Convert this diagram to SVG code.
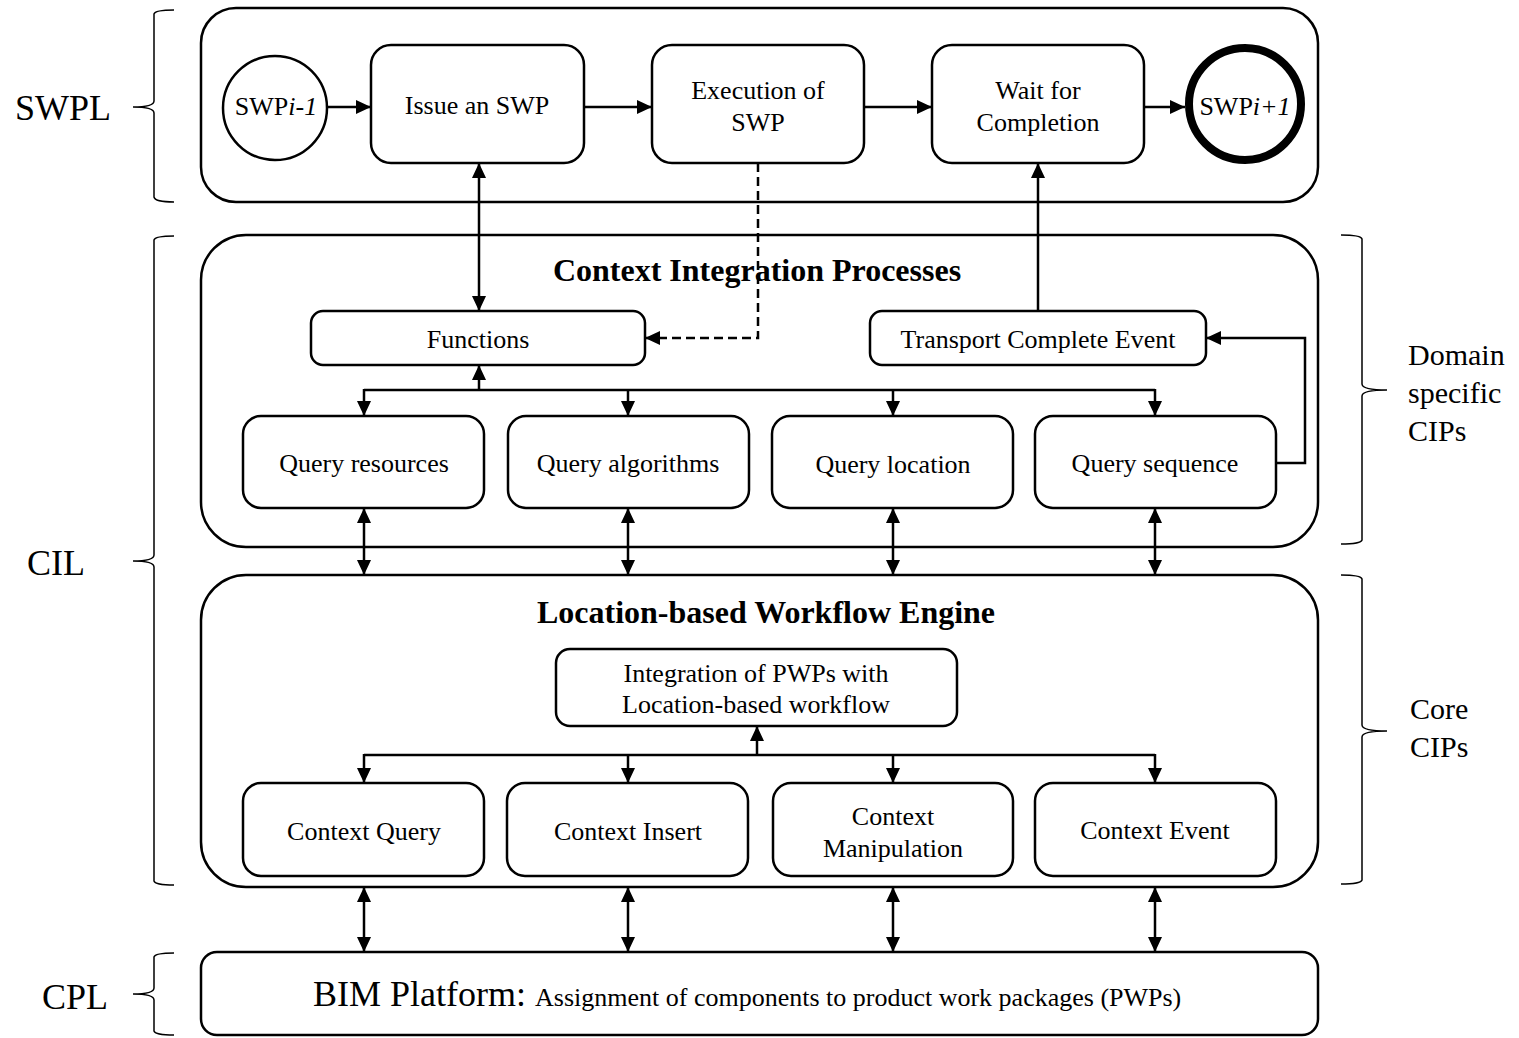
<svg xmlns="http://www.w3.org/2000/svg" width="1519" height="1038" viewBox="0 0 1519 1038">
  <style>
    text { font-family: "Liberation Serif", "Times New Roman", serif; fill: #000; }
    .box { fill: #fff; stroke: #000; stroke-width: 2.5; }
    .layer { fill: none; stroke: #000; stroke-width: 2.5; }
    .brace { fill: none; stroke: #000; stroke-width: 1.5; }
    .conn { fill: none; stroke: #000; stroke-width: 2.5; }
    .dash { stroke-dasharray: 9 5; }
    .t { font-size: 26px; text-anchor: middle; }
    .title { font-size: 32px; font-weight: bold; text-anchor: middle; }
    .side { font-size: 36px; }
    .side2 { font-size: 30px; }
  </style>
  <defs>
    <marker id="ah" markerUnits="userSpaceOnUse" markerWidth="16" markerHeight="14" refX="15" refY="7" orient="auto-start-reverse">
      <path d="M0,0 L15,7 L0,14 z" fill="#000"/>
    </marker>
  </defs>

  <!-- layer labels and braces -->
  <g id="labels">
    <text class="side" x="15" y="120">SWPL</text>
    <text class="side" x="27" y="575">CIL</text>
    <text class="side" x="42" y="1009">CPL</text>
    <text class="side2" x="1408" y="365">Domain</text>
    <text class="side2" x="1408" y="403">specific</text>
    <text class="side2" x="1408" y="441">CIPs</text>
    <text class="side2" x="1410" y="719">Core</text>
    <text class="side2" x="1410" y="757">CIPs</text>
  </g>
  <g id="braces">
    <path class="brace" d="M174,10 Q155,10 154,14 L154,101 Q154,107 133,107 Q154,107 154,113 L154,197 Q155,202 174,202"/>
    <path class="brace" d="M174,236 Q155,236 154,240 L154,555 Q154,561 133,561 Q154,561 154,567 L154,881 Q155,885 174,885"/>
    <path class="brace" d="M174,953 Q155,953 154,957 L154,988 Q154,994 133,994 Q154,994 154,1000 L154,1031 Q155,1035 174,1035"/>
    <path class="brace" d="M1341,235 Q1361,235 1362,239 L1362,384 Q1362,390 1387,390 Q1362,390 1362,396 L1362,540 Q1361,544 1341,544"/>
    <path class="brace" d="M1341,575 Q1361,575 1362,579 L1362,725 Q1362,731 1387,731 Q1362,731 1362,737 L1362,880 Q1361,884 1341,884"/>
  </g>

  <!-- layer containers -->
  <g id="swpl-layer"><rect class="layer" x="201" y="8" width="1117" height="194" rx="35"/></g>
  <g id="cip-layer">
    <rect class="layer" x="201" y="235" width="1117" height="312" rx="45"/>
    <text class="title" x="757" y="281">Context Integration Processes</text>
  </g>
  <g id="lwe-layer">
    <rect class="layer" x="201" y="575" width="1117" height="312" rx="45"/>
    <text class="title" x="766" y="623">Location-based Workflow Engine</text>
  </g>

  <!-- SWPL nodes -->
  <g id="swp-prev">
    <circle class="box" cx="275" cy="108" r="52"/>
    <text class="t" x="276" y="115">SWP<tspan font-style="italic">i-1</tspan></text>
  </g>
  <g id="issue-swp">
    <rect class="box" x="371" y="45" width="213" height="118" rx="20"/>
    <text class="t" x="477" y="114">Issue an SWP</text>
  </g>
  <g id="execution-swp">
    <rect class="box" x="652" y="45" width="212" height="118" rx="20"/>
    <text class="t" x="758" y="99">Execution of</text>
    <text class="t" x="758" y="131">SWP</text>
  </g>
  <g id="wait-completion">
    <rect class="box" x="932" y="45" width="212" height="118" rx="20"/>
    <text class="t" x="1038" y="99">Wait for</text>
    <text class="t" x="1038" y="131">Completion</text>
  </g>
  <g id="swp-next">
    <circle cx="1245" cy="104" r="56" fill="#fff" stroke="#000" stroke-width="8"/>
    <text class="t" x="1245" y="115">SWP<tspan font-style="italic">i+1</tspan></text>
  </g>

  <!-- CIP nodes -->
  <g id="functions">
    <rect class="box" x="311" y="311" width="334" height="54" rx="12"/>
    <text class="t" x="478" y="348">Functions</text>
  </g>
  <g id="transport-event">
    <rect class="box" x="870" y="311" width="336" height="54" rx="12"/>
    <text class="t" x="1038" y="348">Transport Complete Event</text>
  </g>
  <g id="query-resources">
    <rect class="box" x="243" y="416" width="241" height="92" rx="18"/>
    <text class="t" x="364" y="472">Query resources</text>
  </g>
  <g id="query-algorithms">
    <rect class="box" x="508" y="416" width="241" height="92" rx="18"/>
    <text class="t" x="628" y="472">Query algorithms</text>
  </g>
  <g id="query-location">
    <rect class="box" x="772" y="416" width="241" height="92" rx="18"/>
    <text class="t" x="893" y="473">Query location</text>
  </g>
  <g id="query-sequence">
    <rect class="box" x="1035" y="416" width="241" height="92" rx="18"/>
    <text class="t" x="1155" y="472">Query sequence</text>
  </g>

  <!-- LWE nodes -->
  <g id="integration">
    <rect class="box" x="556" y="649" width="401" height="77" rx="14"/>
    <text class="t" x="756" y="682">Integration of PWPs with</text>
    <text class="t" x="756" y="713">Location-based workflow</text>
  </g>
  <g id="context-query">
    <rect class="box" x="243" y="783" width="241" height="93" rx="18"/>
    <text class="t" x="364" y="840">Context Query</text>
  </g>
  <g id="context-insert">
    <rect class="box" x="507" y="783" width="241" height="93" rx="18"/>
    <text class="t" x="628" y="840">Context Insert</text>
  </g>
  <g id="context-manipulation">
    <rect class="box" x="773" y="783" width="240" height="93" rx="18"/>
    <text class="t" x="893" y="825">Context</text>
    <text class="t" x="893" y="857">Manipulation</text>
  </g>
  <g id="context-event">
    <rect class="box" x="1035" y="783" width="241" height="93" rx="18"/>
    <text class="t" x="1155" y="839">Context Event</text>
  </g>

  <!-- CPL node -->
  <g id="bim-platform">
    <rect class="box" x="201" y="952" width="1117" height="83" rx="16"/>
    <text x="313" y="1006" font-size="36">BIM Platform: <tspan font-size="26">Assignment of components to product work packages (PWPs)</tspan></text>
  </g>

  <!-- connectors -->
  <g id="connectors">
    <line class="conn" x1="327" y1="107" x2="371" y2="107" marker-end="url(#ah)"/>
    <line class="conn" x1="584" y1="107" x2="652" y2="107" marker-end="url(#ah)"/>
    <line class="conn" x1="864" y1="107" x2="932" y2="107" marker-end="url(#ah)"/>
    <line class="conn" x1="1144" y1="107" x2="1185" y2="107" marker-end="url(#ah)"/>
    <line class="conn" x1="479" y1="163" x2="479" y2="311" marker-start="url(#ah)" marker-end="url(#ah)"/>
    <path class="conn dash" d="M758,163 V338 H645" marker-end="url(#ah)"/>
    <line class="conn" x1="1038" y1="311" x2="1038" y2="163" marker-end="url(#ah)"/>
    <path class="conn" d="M1276,463 H1305 V338 H1206" marker-end="url(#ah)"/>

    <!-- functions bus -->
    <line class="conn" x1="364" y1="390" x2="1155" y2="390"/>
    <line class="conn" x1="479" y1="390" x2="479" y2="365" marker-end="url(#ah)"/>
    <line class="conn" x1="364" y1="389" x2="364" y2="416" marker-end="url(#ah)"/>
    <line class="conn" x1="628" y1="390" x2="628" y2="416" marker-end="url(#ah)"/>
    <line class="conn" x1="893" y1="390" x2="893" y2="416" marker-end="url(#ah)"/>
    <line class="conn" x1="1155" y1="389" x2="1155" y2="416" marker-end="url(#ah)"/>

    <!-- CIP to LWE -->
    <line class="conn" x1="364" y1="508" x2="364" y2="575" marker-start="url(#ah)" marker-end="url(#ah)"/>
    <line class="conn" x1="628" y1="508" x2="628" y2="575" marker-start="url(#ah)" marker-end="url(#ah)"/>
    <line class="conn" x1="893" y1="508" x2="893" y2="575" marker-start="url(#ah)" marker-end="url(#ah)"/>
    <line class="conn" x1="1155" y1="508" x2="1155" y2="575" marker-start="url(#ah)" marker-end="url(#ah)"/>

    <!-- integration bus -->
    <line class="conn" x1="364" y1="755" x2="1155" y2="755"/>
    <line class="conn" x1="757" y1="755" x2="757" y2="726" marker-end="url(#ah)"/>
    <line class="conn" x1="364" y1="754" x2="364" y2="783" marker-end="url(#ah)"/>
    <line class="conn" x1="628" y1="755" x2="628" y2="783" marker-end="url(#ah)"/>
    <line class="conn" x1="893" y1="755" x2="893" y2="783" marker-end="url(#ah)"/>
    <line class="conn" x1="1155" y1="754" x2="1155" y2="783" marker-end="url(#ah)"/>

    <!-- LWE to BIM platform -->
    <line class="conn" x1="364" y1="887" x2="364" y2="952" marker-start="url(#ah)" marker-end="url(#ah)"/>
    <line class="conn" x1="628" y1="887" x2="628" y2="952" marker-start="url(#ah)" marker-end="url(#ah)"/>
    <line class="conn" x1="893" y1="887" x2="893" y2="952" marker-start="url(#ah)" marker-end="url(#ah)"/>
    <line class="conn" x1="1155" y1="887" x2="1155" y2="952" marker-start="url(#ah)" marker-end="url(#ah)"/>
  </g>
</svg>
